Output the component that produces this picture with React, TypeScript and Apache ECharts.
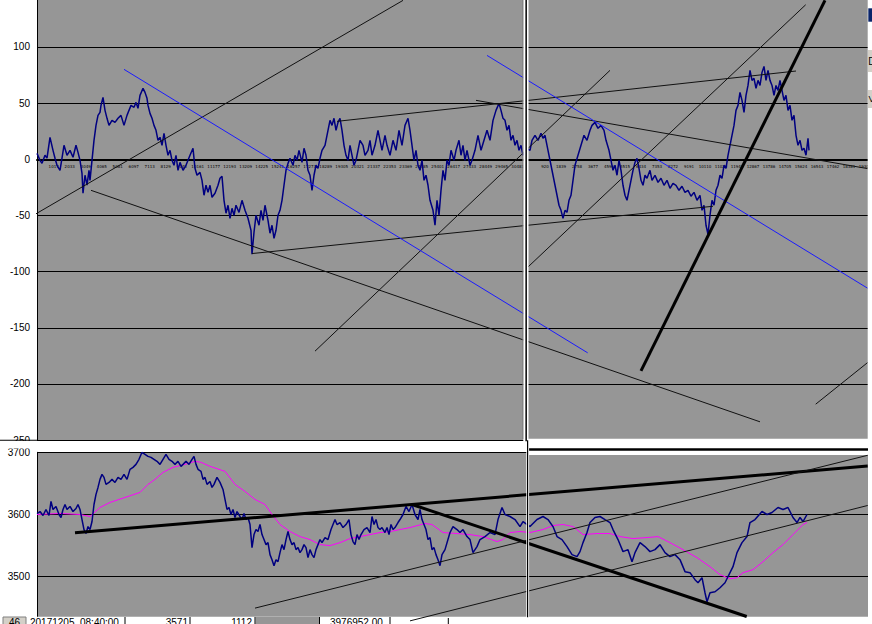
import React, { useEffect, useRef } from 'react';
import * as echarts from 'echarts';

const OFF = 20;

// upper panel: spread series (index, value)
const topSpread: [number, number][] = [
[0,5.3],[3,-0.9],[5,-3.6],[8,3.6],[10,1],[13,19.6],[16,8],[18,1],[20,-5.3],[23,-9.8],[25,1],[27,12.5],[30,3.6],[33,8],[36,1.8],[39,12.5],[41,6.2],[43,-0.9],[45,-12.5],[46,-30.2],[48,-14.2],[50,-23],[52,-9.8],[53,-18.7],[55,-0.9],[57,16.9],[59,30.2],[61,39.1],[63,41.8],[64,48],[66,55.2],[68,43.6],[70,36.5],[72,30.2],[75,34.7],[78,32.9],[81,36.5],[84,39.1],[87,30.2],[90,39.1],[92,43.6],[94,48],[97,46.3],[99,50.7],[101,45.4],[103,56.9],[106,63.2],[108,59.6],[110,54.3],[111,48],[113,40.9],[115,36.5],[117,30.2],[119,25.8],[121,16.9],[123,19.6],[125,12.5],[127,23.1],[129,12.5],[131,3.6],[133,8],[135,-0.9],[137,-5.3],[139,3.6],[141,-9.8],[143,-2.7],[146,-9.8],[149,-5.3],[153,3.6],[156,9.8],[158,-8],[160,-14.2],[163,-11.6],[165,-18.7],[167,-32],[169,-23.1],[171,-29.4],[173,-23.1],[175,-33.8],[178,-30.2],[181,-23.1],[183,-16.9],[185,-15.1],[187,-36.5],[189,-48],[191,-40.9],[193,-52.5],[195,-43.6],[197,-49.8],[199,-40.9],[202,-47.2],[205,-36.5],[208,-45.4],[211,-52.5],[214,-63.2],[215,-84.5],[217,-64.9],[219,-49.8],[222,-58.7],[224,-45.4],[226,-54.3],[228,-40.9],[231,-54.3],[233,-65.8],[235,-58.7],[237,-70.3],[239,-63.2],[241,-49.8],[243,-45.4],[245,-36.5],[247,-23.1],[249,-9.8],[251,-3.6],[253,0.9],[256,-5.3],[258,3.6],[260,-0.9],[262,8],[265,-2.7],[267,9.8],[269,3.6],[271,-9.8],[273,-14.2],[275,-27.6],[277,-14.2],[279,-5.3],[281,-8],[283,0.9],[285,8],[288,12.5],[291,25.8],[293,34.7],[295,30.2],[297,36.5],[299,25.8],[301,32.9],[303,36.5],[305,25.8],[307,12.5],[309,3.6],[311,-0.9],[313,12.5],[315,3.6],[317,-5.3],[319,-0.9],[321,8],[323,16.9],[326,12.5],[328,3.6],[331,8],[333,16.9],[335,3.6],[338,12.5],[341,25.8],[343,16.9],[345,8],[348,21.4],[350,12.5],[353,3.6],[356,16.9],[359,8],[362,25.8],[365,12.5],[368,30.2],[371,36.5],[373,25.8],[375,12.5],[377,-0.9],[379,8],[381,-5.3],[383,-9.8],[385,-0.9],[387,-18.7],[389,-14.2],[391,-23.1],[393,-36.5],[396,-45.4],[398,-58.7],[400,-36.5],[402,-49.8],[404,-27.6],[406,-9.8],[408,-18.7],[410,-0.9],[412,-5.3],[414,8],[417,-0.9],[419,8],[422,16.9],[424,3.6],[426,12.5],[428,-0.9],[430,8],[433,-5.3],[435,-0.9],[438,8],[441,21.4],[444,8],[447,16.9],[450,25.8],[453,16.9],[456,34.7],[459,43.6],[462,49.8],[464,43.6],[466,36.5],[468,34.7],[470,25.8],[472,30.2],[474,16.9],[476,21.4],[478,12.5],[480,16.9],[482,8],[484,12.5],[486,3.6],[489,9.8],[493,8],[495,16.9],[498,21.4],[501,16.9],[504,23.1],[506,18.7],[508,21.4],[510,12.5],[512,3.6],[514,-5.3],[516,-14.2],[518,-23.1],[520,-32],[522,-40.9],[524,-45.4],[526,-52.5],[528,-45.4],[530,-47.2],[532,-36.5],[534,-32],[536,-18.7],[538,-5.3],[541,3.6],[544,12.5],[547,21.4],[550,16.9],[553,25.8],[555,30.2],[558,32.9],[561,27.6],[564,30.2],[567,25.8],[569,16.9],[572,8],[574,-0.9],[576,-9.8],[578,-5.3],[580,-14.2],[582,-0.9],[584,-9.8],[586,-23.1],[588,-32],[590,-36.5],[592,-27.6],[594,-18.7],[596,-9.8],[598,-2.7],[600,0.9],[602,-8],[604,-18.7],[606,-23.1],[608,-14.2],[610,-16.9],[613,-9.8],[615,-18.7],[618,-14.2],[621,-20.5],[624,-16.9],[627,-23.1],[630,-18.7],[633,-25.8],[636,-21.4],[639,-23.1],[642,-27.6],[645,-24],[648,-29.4],[651,-27.6],[654,-32.9],[657,-29.4],[660,-36.5],[663,-32],[665,-45.4],[667,-40.9],[669,-58.7],[671,-66.7],[673,-49.8],[675,-36.5],[677,-40.9],[679,-27.6],[681,-23.1],[683,-14.2],[685,-16.9],[687,-5.3],[689,-8],[691,3.6],[693,12.5],[695,21.4],[697,30.2],[699,43.6],[701,48],[703,59.6],[705,52.5],[707,41.8],[709,56.9],[711,65.8],[713,79.2],[715,70.3],[717,72.1],[719,63.2],[721,70.3],[723,65.8],[725,77.4],[727,82.7],[729,70.3],[731,79.2],[733,70.3],[735,65.8],[737,56.9],[739,65.8],[741,61.4],[743,70.3],[745,61.4],[747,52.5],[749,56.9],[751,43.6],[753,48],[755,34.7],[757,39.1],[759,21.4],[761,12.5],[763,16.9],[765,8],[767,9.8],[769,3.6],[771,18.7],[772,8]
];

// lower panel: price series
const bottomPrice: [number, number][] = [
[0,3601.6],[3,3604.8],[6,3598.4],[9,3608.1],[12,3598.4],[14,3621],[16,3608.1],[19,3612.9],[22,3600],[24,3595.2],[26,3608.1],[28,3616.1],[30,3608.1],[33,3612.9],[36,3604.8],[39,3609.7],[41,3616.1],[43,3608.1],[45,3591.9],[47,3575.8],[49,3569.4],[51,3580.6],[53,3575.8],[55,3588.7],[57,3616.1],[59,3632.3],[61,3643.5],[63,3656.5],[65,3664.5],[67,3659.7],[69,3648.4],[72,3651.6],[75,3656.5],[78,3651.6],[81,3659.7],[84,3656.5],[87,3664.5],[90,3656.5],[93,3672.6],[96,3675.8],[99,3680.6],[102,3688.7],[105,3700],[108,3696.8],[111,3693.5],[114,3691.9],[117,3688.7],[120,3685.5],[123,3680.6],[126,3688.7],[129,3696.8],[132,3688.7],[135,3685.5],[138,3680.6],[141,3685.5],[144,3677.4],[146,3680.6],[149,3685.5],[152,3680.6],[155,3688.7],[157,3693.5],[159,3680.6],[161,3672.6],[164,3669.4],[166,3656.5],[168,3659.7],[170,3648.4],[173,3653.2],[175,3643.5],[177,3648.4],[180,3659.7],[183,3651.6],[186,3640.3],[188,3624.2],[190,3608.1],[192,3611.3],[194,3600],[196,3608.1],[198,3595.2],[200,3604.8],[203,3596.8],[205,3591.9],[207,3601.6],[209,3591.9],[211,3595.2],[213,3583.9],[215,3546.8],[217,3567.7],[219,3575.8],[221,3572.6],[223,3583.9],[225,3567.7],[227,3559.7],[229,3551.6],[231,3554.8],[233,3535.5],[235,3527.4],[237,3517.7],[239,3527.4],[241,3524.2],[243,3538.7],[245,3551.6],[247,3543.5],[249,3559.7],[251,3572.6],[253,3559.7],[255,3551.6],[257,3554.8],[259,3543.5],[261,3546.8],[263,3538.7],[265,3543.5],[267,3551.6],[269,3546.8],[271,3530.6],[273,3543.5],[275,3535.5],[277,3530.6],[279,3543.5],[281,3551.6],[283,3559.7],[285,3554.8],[288,3562.9],[291,3559.7],[294,3575.8],[296,3583.9],[298,3591.9],[300,3583.9],[303,3587.1],[306,3579],[309,3583.9],[312,3591.9],[314,3567.7],[316,3556.5],[318,3551.6],[320,3567.7],[322,3559.7],[324,3567.7],[327,3575.8],[330,3579],[333,3571],[335,3596.8],[337,3583.9],[339,3591.9],[341,3579],[343,3575.8],[345,3579],[348,3571],[350,3579],[352,3567.7],[354,3583.9],[356,3575.8],[358,3579],[361,3587.1],[363,3591.9],[366,3600],[369,3612.9],[372,3604.8],[375,3616.1],[378,3600],[381,3591.9],[383,3608.1],[385,3591.9],[387,3583.9],[389,3575.8],[391,3559.7],[393,3562.9],[395,3543.5],[397,3546.8],[399,3535.5],[401,3527.4],[403,3517.7],[405,3535.5],[408,3543.5],[413,3571],[416,3580.6],[420,3575.8],[423,3571],[426,3575.8],[430,3564.5],[433,3559.7],[436,3538.7],[440,3548.4],[443,3559.7],[448,3564.5],[453,3571],[458,3567.7],[461,3591.9],[465,3611.3],[468,3600],[473,3596.8],[478,3591.9],[483,3580.6],[486,3588.7],[493,3580.6],[500,3591.9],[506,3596.8],[511,3591.9],[516,3580.6],[520,3564.5],[525,3559.7],[530,3548.4],[535,3535.5],[540,3532.3],[543,3540.3],[546,3554.8],[550,3571],[553,3587.1],[558,3595.2],[563,3596.8],[568,3591.9],[573,3587.1],[576,3575.8],[581,3559.7],[586,3540.3],[591,3543.5],[595,3524.2],[598,3538.7],[603,3554.8],[608,3548.4],[613,3540.3],[618,3543.5],[623,3551.6],[628,3538.7],[633,3532.3],[638,3535.5],[643,3527.4],[648,3508.1],[653,3506.5],[658,3495.2],[661,3490.3],[665,3498.4],[668,3474.2],[670,3459.7],[673,3474.2],[678,3475.8],[683,3482.3],[688,3490.3],[693,3506.5],[696,3516.1],[700,3538.7],[705,3554.8],[710,3564.5],[713,3587.1],[718,3591.9],[725,3604.8],[730,3600],[735,3603.2],[741,3611.3],[746,3608.1],[751,3611.3],[756,3595.2],[760,3587.1],[763,3595.2],[766,3588.7],[770,3600]
];

// lower panel: moving average
const bottomAverage: [number, number][] = [
[0,3600],[23,3601.6],[43,3600],[53,3596.8],[63,3611.3],[73,3619.4],[88,3627.4],[103,3635.5],[111,3648.4],[118,3656.5],[126,3667.7],[136,3675.8],[148,3680.6],[158,3685.5],[164,3683.9],[173,3677.4],[188,3669.4],[198,3648.4],[208,3637.1],[218,3624.2],[228,3616.1],[235,3600],[243,3583.9],[253,3572.6],[263,3564.5],[273,3559.7],[283,3551.6],[293,3550],[303,3554.8],[313,3561.3],[323,3564.5],[333,3567.7],[343,3571],[353,3572.6],[363,3575.8],[373,3579],[388,3585.5],[395,3583.9],[406,3571],[420,3569.4],[433,3567.7],[446,3564.5],[460,3556.5],[466,3559.7],[473,3571],[483,3572.6],[493,3571],[506,3575.8],[516,3582.3],[526,3583.9],[536,3580.6],[546,3567.7],[560,3569.4],[573,3569.4],[583,3564.5],[596,3561.3],[610,3562.9],[621,3564.5],[633,3554.8],[646,3543.5],[660,3530.6],[673,3516.1],[683,3503.2],[693,3496.8],[700,3498.4],[706,3506.5],[716,3511.3],[726,3524.2],[736,3538.7],[746,3551.6],[756,3567.7],[766,3583.9],[770,3587.1]
];

// hand-drawn trend lines (endpoints in axis units)
const thinTopLines: [number, number][][] = [
  [[-7, -51.6], [366, 141.5]],
  [[54, -27.6], [723, -233.7]],
  [[215, -83.9], [676, -41.8]],
  [[278, -170.8], [573, 79.2]],
  [[485.7, -100.3], [768.7, 137.6]],
  [[300, 33.8], [759, 78.6]],
  [[439, 52.5], [830.7, -8.3]],
  [[778.7, -218], [830.7, -180.9]],
];
const blueTopLines: [number, number][][] = [
  [[87, 80.1], [550.7, -172.3]],
  [[450, 92.5], [830.7, -114.8]],
];
const thickTopLines: [number, number][][] = [
  [[604, -188.3], [788, 141.5]],
];
const thickBottomLines: [number, number][][] = [
  [[38, 3570.5], [830.7, 3677.9]],
  [[375, 3616.1], [709.7, 3436]],
];
const thinBottomLines: [number, number][][] = [
  [[218, 3449.5], [830.7, 3695.2]],
  [[373, 3429], [830.7, 3614.5]],
];

// category tick labels printed along the zero line
const leftCategoryLabels = ['1017','2033','3049','4065','5081','6097','7113','8129','9145','10161','11177','12193','13209','14225','15241','16257','17273','18289','19305','20321','21337','22353','23369','24385','25401','26417','27433','28449','29465','30481'];
const rightCategoryLabels = ['920','1839','2758','3677','4596','5515','6434','7353','8272','9191','10110','11029','11948','12867','13786','14705','15624','16543','17462','18381','19300'];

// axis values that the picture crops away
const hiddenTicks = [150, 3400];

// spreadsheet row peeking under the chart
const sheetCells = ['46', '20171205', '08:40:00', '3571', '1112', '3976952.00'];

function lineSeries(pts: [number, number][], idx: number, color: string, width: number, z: number, clip: boolean) {
  return {
    type: 'line', xAxisIndex: idx, yAxisIndex: idx, data: pts, symbol: 'none', showSymbol: false,
    lineStyle: { color, width }, clip, z, silent: true, animation: false,
  };
}

function buildOption() {
  const font = 'Liberation Sans, Arial, sans-serif';
  const yBase = {
    type: 'value',
    axisLine: { show: true, lineStyle: { color: '#000', width: 1 } },
    axisTick: { show: false },
    axisLabel: {
      color: '#000', fontSize: 10, margin: 7, fontFamily: font,
      formatter: (v: number) => (hiddenTicks.indexOf(v) >= 0 ? '' : String(v)),
    },
    splitLine: { show: true, lineStyle: { color: '#000', width: 1 } },
  };
  const series: any[] = [
    lineSeries(topSpread, 0, '#000080', 1.5, 2, true),
    lineSeries(bottomAverage, 1, '#ff00ff', 1, 2, true),
    lineSeries(bottomPrice, 1, '#000080', 1.5, 2, true),
  ];
  thinTopLines.forEach((l) => series.push(lineSeries(l, 0, '#111111', 1, 3, false)));
  blueTopLines.forEach((l) => series.push(lineSeries(l, 0, '#1a1aff', 1, 3, false)));
  thickTopLines.forEach((l) => series.push(lineSeries(l, 0, '#000000', 3, 3, false)));
  thickBottomLines.forEach((l) => series.push(lineSeries(l, 1, '#000000', 3, 3, false)));
  thinBottomLines.forEach((l) => series.push(lineSeries(l, 1, '#111111', 1, 3, false)));

  const Y = (v: number) => v + OFF;
  const els: any[] = [];
  const rect = (x: number, y: number, w: number, h: number, fill: string, z: number, stroke?: string) =>
    els.push({ type: 'rect', silent: true, z, shape: { x, y: Y(y), width: w, height: h }, style: stroke ? { fill, stroke, lineWidth: 1 } : { fill } });
  const text = (t: string, x: number, y: number, size: number, align: string, vAlign: string, z: number, family = font) =>
    els.push({ type: 'text', silent: true, z, x, y: Y(y), style: { text: t, fill: '#000', fontSize: size, fontFamily: family, align, verticalAlign: vAlign } });

  // tiny category labels
  leftCategoryLabels.forEach((t, i) => text(t, 53.7 + 16 * i, 166.5, 4, 'center', 'middle', 1, 'DejaVu Sans'));
  rightCategoryLabels.forEach((t, i) => text(t, 545 + 16 * i, 166.5, 4, 'center', 'middle', 1, 'DejaVu Sans'));

  // gap between the two panels
  rect(0, 440.9, 527, 7.5, '#ffffff', 1);
  rect(0, 439.7, 37, 1, '#000000', 1);
  rect(527, 438.8, 345, 16.2, '#ffffff', 1);
  rect(527, 448.3, 341, 2.4, '#000000', 1);
  // white below the lower plot
  rect(0, 616.8, 872, 40, '#ffffff', 1);

  // vertical split between the two windows
  rect(523.3, -OFF, 5.2, 441 + OFF, '#ffffff', 100);
  rect(522.4, -OFF, 0.9, 439 + OFF, '#7a7a7a', 100);
  rect(525.4, -OFF, 1.5, 441.2 + OFF, '#000000', 101);
  rect(526.3, 441, 2.8, 176, '#ffffff', 100);
  rect(527, 440.2, 1.2, 177, '#000000', 101);

  // right border strip with window widgets
  rect(867.7, -OFF, 10, 439 + OFF, '#ffffff', 100);
  rect(868.3, 8.3, 4, 13.4, '#0a246a', 101);
  rect(868, 50, 4, 22, '#d4d0c8', 101);
  text('D', 868.2, 61, 10, 'left', 'middle', 102);
  rect(868, 90, 4, 18, '#d4d0c8', 101);
  text('V', 868.5, 99, 9, 'left', 'middle', 102);

  // spreadsheet row
  rect(3, 617, 23, 10, '#d4d0c8', 100, '#808080');
  rect(255.5, 617, 64, 10, '#969696', 100);
  [125, 190, 255, 319.5, 390].forEach((x) =>
    els.push({ type: 'line', silent: true, z: 101, shape: { x1: x, y1: Y(617), x2: x, y2: Y(626) }, style: { stroke: '#000', lineWidth: 1 } }));
  els.push({ type: 'line', silent: true, z: 101, shape: { x1: 448.3, y1: Y(618), x2: 448.3, y2: Y(626) }, style: { stroke: '#000', lineWidth: 1 } });
  text(sheetCells[0], 14.5, 617, 10, 'center', 'top', 102);
  text(sheetCells[1], 30, 617, 10, 'left', 'top', 102);
  text(sheetCells[2], 80, 617, 10, 'left', 'top', 102);
  text(sheetCells[3], 188, 617, 10, 'right', 'top', 102);
  text(sheetCells[4], 252, 617, 10, 'right', 'top', 102);
  text(sheetCells[5], 330, 617, 10, 'left', 'top', 102);

  return {
    animation: false,
    backgroundColor: '#ffffff',
    textStyle: { fontFamily: font },
    grid: [
      { left: 37, top: 10.83, width: 831, height: 449.3, show: true, backgroundColor: '#969696', borderWidth: 0, containLabel: false },
      { left: 37, top: 472.3, width: 831, height: 186.6, show: true, backgroundColor: '#969696', borderWidth: 0, containLabel: false },
    ],
    xAxis: [
      { type: 'value', gridIndex: 0, min: 0, max: 831, axisLine: { show: true, onZero: true, lineStyle: { color: '#000', width: 2 } }, axisTick: { show: false }, axisLabel: { show: false }, splitLine: { show: false } },
      { type: 'value', gridIndex: 1, min: 0, max: 831, show: false, splitLine: { show: false } },
    ],
    yAxis: [
      { ...yBase, gridIndex: 0, min: -250, max: 150, interval: 50 },
      { ...yBase, gridIndex: 1, min: 3400, max: 3700, interval: 100 },
    ],
    series,
    graphic: { elements: els },
  };
}

export default function App() {
  const ref = useRef<HTMLDivElement>(null);
  useEffect(() => {
    if (!ref.current) return;
    const chart = echarts.init(ref.current, undefined, { renderer: 'svg' });
    chart.setOption(buildOption() as any);
    return () => chart.dispose();
  }, []);
  return (
    <div style={{ position: 'fixed', left: 0, top: 0, width: 872, height: 624, overflow: 'hidden', background: '#ffffff' }}>
      <div ref={ref} style={{ position: 'absolute', left: 0, top: -OFF, width: 872, height: 680 }} />
    </div>
  );
}
